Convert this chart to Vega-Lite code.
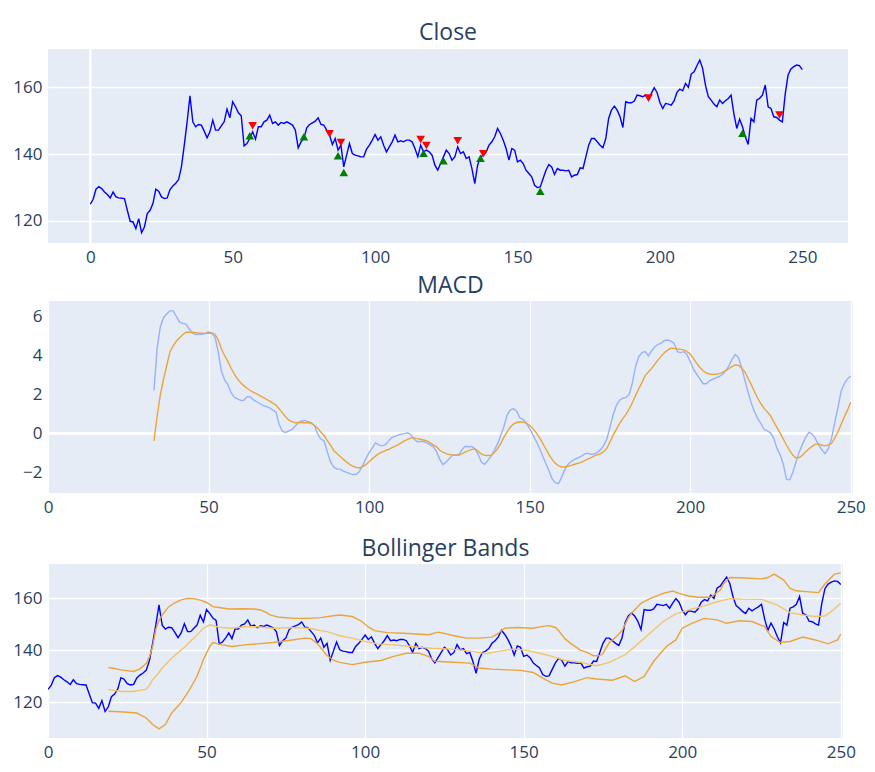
{
  "$schema": "https://vega.github.io/schema/vega-lite/v6.json",
  "background": "white",
  "padding": {"left": 12, "top": 21, "right": 5, "bottom": 5},
  "bounds": "flush",
  "spacing": 58,
  "resolve": {"scale": {"color": "independent", "shape": "independent"}},
  "config": {
    "view": {"fill": "#E5ECF6", "stroke": null},
    "axis": {"domain": false, "ticks": false, "gridColor": "white", "gridWidth": 1.3, "labelColor": "#2a3f5f", "labelFont": "Open Sans", "labelFontSize": 17, "labelPadding": 6, "labelFlush": false, "labelOverlap": false},
    "title": {"font": "Open Sans", "fontSize": 23, "color": "#2a3f5f", "fontWeight": "normal", "anchor": "middle", "offset": 3},
    "line": {"strokeWidth": 1.5}
  },
  "datasets": {
    "close": [
{"x":0,"close":125.0},{"x":1,"close":126.5},{"x":2,"close":129.5},{"x":3,"close":130.3},{"x":4,"close":129.7},{"x":5,"close":128.7},{"x":6,"close":127.9},{"x":7,"close":126.9},{"x":8,"close":128.7},{"x":9,"close":127.2},
{"x":10,"close":126.9},{"x":11,"close":126.8},{"x":12,"close":126.7},{"x":13,"close":123.2},{"x":14,"close":119.9},{"x":15,"close":119.7},{"x":16,"close":117.7},{"x":17,"close":120.7},{"x":18,"close":116.5},{"x":19,"close":118.2},
{"x":20,"close":122.2},{"x":21,"close":123.2},{"x":22,"close":125.2},{"x":23,"close":129.5},{"x":24,"close":128.9},{"x":25,"close":127.2},{"x":26,"close":126.7},{"x":27,"close":126.9},{"x":28,"close":129.4},{"x":29,"close":130.5},
{"x":30,"close":131.3},{"x":31,"close":132.4},{"x":32,"close":136.2},{"x":33,"close":142.7},{"x":34,"close":149.7},{"x":35,"close":157.5},{"x":36,"close":149.7},{"x":37,"close":148.2},{"x":38,"close":148.9},{"x":39,"close":148.7},
{"x":40,"close":146.9},{"x":41,"close":144.9},{"x":42,"close":146.7},{"x":43,"close":150.2},{"x":44,"close":147.2},{"x":45,"close":147.2},{"x":46,"close":148.5},{"x":47,"close":149.7},{"x":48,"close":153.5},{"x":49,"close":150.9},
{"x":50,"close":155.7},{"x":51,"close":154.2},{"x":52,"close":152.4},{"x":53,"close":151.5},{"x":54,"close":142.5},{"x":55,"close":143.2},{"x":56,"close":144.7},{"x":57,"close":146.7},{"x":58,"close":144.5},{"x":59,"close":148.2},
{"x":60,"close":148.2},{"x":61,"close":149.7},{"x":62,"close":150.2},{"x":63,"close":151.7},{"x":64,"close":149.2},{"x":65,"close":149.7},{"x":66,"close":148.7},{"x":67,"close":149.5},{"x":68,"close":149.2},{"x":69,"close":149.7},
{"x":70,"close":149.2},{"x":71,"close":148.7},{"x":72,"close":147.2},{"x":73,"close":141.9},{"x":74,"close":143.7},{"x":75,"close":144.7},{"x":76,"close":147.9},{"x":77,"close":148.9},{"x":78,"close":149.4},{"x":79,"close":149.9},
{"x":80,"close":150.9},{"x":81,"close":148.9},{"x":82,"close":148.7},{"x":83,"close":147.2},{"x":84,"close":145.7},{"x":85,"close":142.9},{"x":86,"close":144.7},{"x":87,"close":141.2},{"x":88,"close":142.7},{"x":89,"close":136.2},
{"x":90,"close":139.7},{"x":91,"close":143.2},{"x":92,"close":140.2},{"x":93,"close":139.7},{"x":94,"close":139.5},{"x":95,"close":139.2},{"x":96,"close":139.2},{"x":97,"close":141.5},{"x":98,"close":142.7},{"x":99,"close":144.2},
{"x":100,"close":145.9},{"x":101,"close":144.2},{"x":102,"close":145.2},{"x":103,"close":142.7},{"x":104,"close":140.7},{"x":105,"close":142.2},{"x":106,"close":143.7},{"x":107,"close":145.7},{"x":108,"close":143.7},{"x":109,"close":144.0},
{"x":110,"close":143.7},{"x":111,"close":144.2},{"x":112,"close":144.2},{"x":113,"close":143.7},{"x":114,"close":141.7},{"x":115,"close":139.2},{"x":116,"close":142.7},{"x":117,"close":140.7},{"x":118,"close":141.2},{"x":119,"close":140.7},
{"x":120,"close":139.7},{"x":121,"close":136.7},{"x":122,"close":135.2},{"x":123,"close":137.2},{"x":124,"close":139.2},{"x":125,"close":141.2},{"x":126,"close":140.2},{"x":127,"close":138.2},{"x":128,"close":139.2},{"x":129,"close":142.2},
{"x":130,"close":140.2},{"x":131,"close":140.7},{"x":132,"close":138.7},{"x":133,"close":139.2},{"x":134,"close":135.7},{"x":135,"close":131.2},{"x":136,"close":136.7},{"x":137,"close":139.2},{"x":138,"close":139.7},{"x":139,"close":140.7},
{"x":140,"close":142.7},{"x":141,"close":143.7},{"x":142,"close":145.2},{"x":143,"close":147.7},{"x":144,"close":146.2},{"x":145,"close":144.2},{"x":146,"close":141.7},{"x":147,"close":138.2},{"x":148,"close":141.7},{"x":149,"close":141.2},
{"x":150,"close":137.7},{"x":151,"close":138.2},{"x":152,"close":137.2},{"x":153,"close":135.2},{"x":154,"close":134.2},{"x":155,"close":133.2},{"x":156,"close":130.7},{"x":157,"close":130.0},{"x":158,"close":130.2},{"x":159,"close":132.7},
{"x":160,"close":135.2},{"x":161,"close":136.9},{"x":162,"close":136.2},{"x":163,"close":133.9},{"x":164,"close":135.7},{"x":165,"close":135.2},{"x":166,"close":135.2},{"x":167,"close":135.0},{"x":168,"close":135.2},{"x":169,"close":133.2},
{"x":170,"close":133.7},{"x":171,"close":133.9},{"x":172,"close":135.9},{"x":173,"close":135.7},{"x":174,"close":139.2},{"x":175,"close":142.7},{"x":176,"close":144.7},{"x":177,"close":144.7},{"x":178,"close":143.7},{"x":179,"close":142.7},
{"x":180,"close":141.9},{"x":181,"close":144.7},{"x":182,"close":150.7},{"x":183,"close":153.2},{"x":184,"close":154.4},{"x":185,"close":153.2},{"x":186,"close":151.2},{"x":187,"close":148.0},{"x":188,"close":155.7},{"x":189,"close":155.4},
{"x":190,"close":155.4},{"x":191,"close":155.9},{"x":192,"close":157.7},{"x":193,"close":157.5},{"x":194,"close":157.2},{"x":195,"close":157.7},{"x":196,"close":156.2},{"x":197,"close":158.2},{"x":198,"close":159.9},{"x":199,"close":158.5},
{"x":200,"close":155.5},{"x":201,"close":153.7},{"x":202,"close":155.2},{"x":203,"close":155.0},{"x":204,"close":154.7},{"x":205,"close":156.0},{"x":206,"close":158.5},{"x":207,"close":159.5},{"x":208,"close":159.0},{"x":209,"close":161.2},
{"x":210,"close":160.0},{"x":211,"close":164.0},{"x":212,"close":164.7},{"x":213,"close":166.5},{"x":214,"close":168.2},{"x":215,"close":165.7},{"x":216,"close":160.7},{"x":217,"close":157.2},{"x":218,"close":156.2},{"x":219,"close":155.0},
{"x":220,"close":154.2},{"x":221,"close":156.2},{"x":222,"close":155.2},{"x":223,"close":156.0},{"x":224,"close":156.7},{"x":225,"close":157.7},{"x":226,"close":152.0},{"x":227,"close":147.7},{"x":228,"close":150.5},{"x":229,"close":148.2},
{"x":230,"close":145.2},{"x":231,"close":142.9},{"x":232,"close":150.7},{"x":233,"close":149.7},{"x":234,"close":156.2},{"x":235,"close":156.7},{"x":236,"close":157.7},{"x":237,"close":160.7},{"x":238,"close":154.2},{"x":239,"close":153.7},
{"x":240,"close":151.2},{"x":241,"close":151.0},{"x":242,"close":150.2},{"x":243,"close":149.7},{"x":244,"close":158.0},{"x":245,"close":163.7},{"x":246,"close":165.5},{"x":247,"close":166.2},{"x":248,"close":166.7},{"x":249,"close":166.5},
{"x":250,"close":165.3}
    ],
    "signals": [
{"x":56,"y":145.5,"type":"buy"},{"x":75,"y":145.2,"type":"buy"},{"x":87,"y":139.5,"type":"buy"},{"x":89,"y":134.5,"type":"buy"},{"x":117,"y":140.3,"type":"buy"},{"x":124,"y":138.0,"type":"buy"},{"x":137,"y":138.8,"type":"buy"},{"x":158,"y":128.9,"type":"buy"},{"x":229,"y":146.3,"type":"buy"},
{"x":57,"y":148.5,"type":"sell"},{"x":84,"y":146.1,"type":"sell"},{"x":88,"y":143.5,"type":"sell"},{"x":116,"y":144.4,"type":"sell"},{"x":118,"y":142.6,"type":"sell"},{"x":129,"y":144.0,"type":"sell"},{"x":138,"y":140.1,"type":"sell"},{"x":196,"y":156.8,"type":"sell"},{"x":242,"y":151.7,"type":"sell"}
    ],
    "macd": [
{"x":33,"macd":2.2,"signal":-0.4},{"x":34,"macd":4.4,"signal":0.9},{"x":35,"macd":5.5,"signal":2.0},{"x":36,"macd":5.95,"signal":2.8},{"x":37,"macd":6.15,"signal":3.5},{"x":38,"macd":6.3,"signal":4.2},{"x":39,"macd":6.3,"signal":4.5},
{"x":40,"macd":6.0,"signal":4.75},{"x":41,"macd":5.72,"signal":4.92},{"x":42,"macd":5.66,"signal":5.08},{"x":43,"macd":5.62,"signal":5.2},{"x":44,"macd":5.35,"signal":5.2},{"x":45,"macd":5.17,"signal":5.19},{"x":46,"macd":5.08,"signal":5.18},{"x":47,"macd":5.1,"signal":5.16},{"x":48,"macd":5.1,"signal":5.15},{"x":49,"macd":5.14,"signal":5.14},
{"x":50,"macd":5.22,"signal":5.15},{"x":51,"macd":5.15,"signal":5.16},{"x":52,"macd":4.95,"signal":5.1},{"x":53,"macd":4.2,"signal":4.8},{"x":54,"macd":3.2,"signal":4.35},{"x":55,"macd":2.75,"signal":4.0},{"x":56,"macd":2.5,"signal":3.7},{"x":57,"macd":2.1,"signal":3.36},{"x":58,"macd":1.85,"signal":3.05},{"x":59,"macd":1.77,"signal":2.8},
{"x":60,"macd":1.69,"signal":2.6},{"x":61,"macd":1.7,"signal":2.45},{"x":62,"macd":1.88,"signal":2.3},{"x":63,"macd":1.87,"signal":2.2},{"x":64,"macd":1.72,"signal":2.1},{"x":65,"macd":1.62,"signal":2.03},{"x":66,"macd":1.53,"signal":1.94},{"x":67,"macd":1.42,"signal":1.85},{"x":68,"macd":1.37,"signal":1.75},{"x":69,"macd":1.31,"signal":1.65},
{"x":70,"macd":1.19,"signal":1.55},{"x":71,"macd":1.08,"signal":1.45},{"x":72,"macd":0.45,"signal":1.25},{"x":73,"macd":0.1,"signal":1.05},{"x":74,"macd":0.04,"signal":0.85},{"x":75,"macd":0.12,"signal":0.67},{"x":76,"macd":0.2,"signal":0.6},{"x":77,"macd":0.37,"signal":0.54},{"x":78,"macd":0.55,"signal":0.55},{"x":79,"macd":0.63,"signal":0.55},
{"x":80,"macd":0.66,"signal":0.54},{"x":81,"macd":0.6,"signal":0.55},{"x":82,"macd":0.55,"signal":0.5},{"x":83,"macd":0.38,"signal":0.4},{"x":84,"macd":-0.05,"signal":0.25},{"x":85,"macd":-0.3,"signal":0.05},{"x":86,"macd":-0.4,"signal":-0.12},{"x":87,"macd":-0.97,"signal":-0.38},{"x":88,"macd":-1.48,"signal":-0.62},{"x":89,"macd":-1.75,"signal":-0.9},
{"x":90,"macd":-1.85,"signal":-1.05},{"x":91,"macd":-1.85,"signal":-1.2},{"x":92,"macd":-1.95,"signal":-1.35},{"x":93,"macd":-2.02,"signal":-1.48},{"x":94,"macd":-2.08,"signal":-1.62},{"x":95,"macd":-2.13,"signal":-1.7},{"x":96,"macd":-2.12,"signal":-1.76},{"x":97,"macd":-1.98,"signal":-1.79},{"x":98,"macd":-1.65,"signal":-1.72},{"x":99,"macd":-1.31,"signal":-1.62},
{"x":100,"macd":-1.0,"signal":-1.47},{"x":101,"macd":-0.75,"signal":-1.31},{"x":102,"macd":-0.5,"signal":-1.18},{"x":103,"macd":-0.6,"signal":-1.05},{"x":104,"macd":-0.65,"signal":-0.97},{"x":105,"macd":-0.6,"signal":-0.9},{"x":106,"macd":-0.42,"signal":-0.84},{"x":107,"macd":-0.22,"signal":-0.76},{"x":108,"macd":-0.16,"signal":-0.68},{"x":109,"macd":-0.1,"signal":-0.6},
{"x":110,"macd":-0.05,"signal":-0.5},{"x":111,"macd":-0.02,"signal":-0.4},{"x":112,"macd":0.02,"signal":-0.32},{"x":113,"macd":-0.08,"signal":-0.24},{"x":114,"macd":-0.3,"signal":-0.24},{"x":115,"macd":-0.44,"signal":-0.28},{"x":116,"macd":-0.42,"signal":-0.31},{"x":117,"macd":-0.43,"signal":-0.35},{"x":118,"macd":-0.5,"signal":-0.39},{"x":119,"macd":-0.6,"signal":-0.5},
{"x":120,"macd":-0.7,"signal":-0.6},{"x":121,"macd":-0.95,"signal":-0.7},{"x":122,"macd":-1.35,"signal":-0.88},{"x":123,"macd":-1.62,"signal":-0.98},{"x":124,"macd":-1.48,"signal":-1.05},{"x":125,"macd":-1.3,"signal":-1.1},{"x":126,"macd":-1.14,"signal":-1.12},{"x":127,"macd":-1.12,"signal":-1.14},{"x":128,"macd":-1.1,"signal":-1.12},{"x":129,"macd":-0.82,"signal":-1.05},
{"x":130,"macd":-0.67,"signal":-0.96},{"x":131,"macd":-0.7,"signal":-0.9},{"x":132,"macd":-0.68,"signal":-0.83},{"x":133,"macd":-0.8,"signal":-0.82},{"x":134,"macd":-1.1,"signal":-0.93},{"x":135,"macd":-1.5,"signal":-1.08},{"x":136,"macd":-1.6,"signal":-1.14},{"x":137,"macd":-1.4,"signal":-1.15},{"x":138,"macd":-1.18,"signal":-1.14},{"x":139,"macd":-0.88,"signal":-1.0},
{"x":140,"macd":-0.55,"signal":-0.8},{"x":141,"macd":-0.1,"signal":-0.52},{"x":142,"macd":0.35,"signal":-0.2},{"x":143,"macd":0.95,"signal":0.08},{"x":144,"macd":1.2,"signal":0.32},{"x":145,"macd":1.26,"signal":0.48},{"x":146,"macd":1.12,"signal":0.55},{"x":147,"macd":0.78,"signal":0.59},{"x":148,"macd":0.7,"signal":0.57},{"x":149,"macd":0.5,"signal":0.52},
{"x":150,"macd":0.24,"signal":0.4},{"x":151,"macd":-0.08,"signal":0.25},{"x":152,"macd":-0.4,"signal":0.03},{"x":153,"macd":-0.75,"signal":-0.22},{"x":154,"macd":-1.15,"signal":-0.5},{"x":155,"macd":-1.55,"signal":-0.8},{"x":156,"macd":-1.93,"signal":-1.1},{"x":157,"macd":-2.35,"signal":-1.35},{"x":158,"macd":-2.55,"signal":-1.55},{"x":159,"macd":-2.6,"signal":-1.68},
{"x":160,"macd":-2.25,"signal":-1.74},{"x":161,"macd":-1.85,"signal":-1.73},{"x":162,"macd":-1.6,"signal":-1.7},{"x":163,"macd":-1.45,"signal":-1.66},{"x":164,"macd":-1.35,"signal":-1.6},{"x":165,"macd":-1.27,"signal":-1.55},{"x":166,"macd":-1.2,"signal":-1.5},{"x":167,"macd":-1.08,"signal":-1.42},{"x":168,"macd":-1.03,"signal":-1.34},{"x":169,"macd":-1.08,"signal":-1.27},
{"x":170,"macd":-1.07,"signal":-1.18},{"x":171,"macd":-1.0,"signal":-1.12},{"x":172,"macd":-0.86,"signal":-1.06},{"x":173,"macd":-0.65,"signal":-0.95},{"x":174,"macd":-0.32,"signal":-0.79},{"x":175,"macd":0.3,"signal":-0.45},{"x":176,"macd":0.95,"signal":-0.1},{"x":177,"macd":1.42,"signal":0.2},{"x":178,"macd":1.7,"signal":0.5},{"x":179,"macd":1.8,"signal":0.75},
{"x":180,"macd":1.84,"signal":0.97},{"x":181,"macd":2.0,"signal":1.25},{"x":182,"macd":2.6,"signal":1.58},{"x":183,"macd":3.45,"signal":1.95},{"x":184,"macd":3.95,"signal":2.3},{"x":185,"macd":4.15,"signal":2.62},{"x":186,"macd":4.2,"signal":2.98},{"x":187,"macd":3.98,"signal":3.15},{"x":188,"macd":4.25,"signal":3.34},{"x":189,"macd":4.45,"signal":3.56},
{"x":190,"macd":4.58,"signal":3.78},{"x":191,"macd":4.64,"signal":3.97},{"x":192,"macd":4.78,"signal":4.16},{"x":193,"macd":4.8,"signal":4.28},{"x":194,"macd":4.74,"signal":4.38},{"x":195,"macd":4.62,"signal":4.37},{"x":196,"macd":4.2,"signal":4.34},{"x":197,"macd":4.15,"signal":4.32},{"x":198,"macd":4.2,"signal":4.29},{"x":199,"macd":4.05,"signal":4.2},
{"x":200,"macd":3.7,"signal":4.08},{"x":201,"macd":3.3,"signal":3.85},{"x":202,"macd":3.05,"signal":3.6},{"x":203,"macd":2.8,"signal":3.4},{"x":204,"macd":2.55,"signal":3.22},{"x":205,"macd":2.55,"signal":3.1},{"x":206,"macd":2.7,"signal":3.05},{"x":207,"macd":2.78,"signal":3.03},{"x":208,"macd":2.85,"signal":3.04},{"x":209,"macd":2.92,"signal":3.07},
{"x":210,"macd":3.02,"signal":3.12},{"x":211,"macd":3.2,"signal":3.22},{"x":212,"macd":3.45,"signal":3.32},{"x":213,"macd":3.8,"signal":3.43},{"x":214,"macd":4.05,"signal":3.52},{"x":215,"macd":3.9,"signal":3.5},{"x":216,"macd":3.4,"signal":3.35},{"x":217,"macd":2.75,"signal":3.17},{"x":218,"macd":2.15,"signal":2.83},{"x":219,"macd":1.55,"signal":2.5},
{"x":220,"macd":1.12,"signal":2.15},{"x":221,"macd":0.76,"signal":1.8},{"x":222,"macd":0.5,"signal":1.53},{"x":223,"macd":0.2,"signal":1.28},{"x":224,"macd":0.12,"signal":1.1},{"x":225,"macd":0.02,"signal":0.9},{"x":226,"macd":-0.25,"signal":0.6},{"x":227,"macd":-0.78,"signal":0.3},{"x":228,"macd":-1.1,"signal":0.0},{"x":229,"macd":-1.6,"signal":-0.3},
{"x":230,"macd":-2.38,"signal":-0.62},{"x":231,"macd":-2.4,"signal":-0.9},{"x":232,"macd":-2.0,"signal":-1.14},{"x":233,"macd":-1.45,"signal":-1.28},{"x":234,"macd":-0.95,"signal":-1.25},{"x":235,"macd":-0.55,"signal":-1.12},{"x":236,"macd":-0.2,"signal":-0.95},{"x":237,"macd":0.05,"signal":-0.8},{"x":238,"macd":-0.05,"signal":-0.68},{"x":239,"macd":-0.28,"signal":-0.56},
{"x":240,"macd":-0.6,"signal":-0.55},{"x":241,"macd":-0.85,"signal":-0.62},{"x":242,"macd":-1.05,"signal":-0.65},{"x":243,"macd":-0.8,"signal":-0.6},{"x":244,"macd":-0.28,"signal":-0.53},{"x":245,"macd":0.55,"signal":-0.25},{"x":246,"macd":1.3,"signal":0.07},{"x":247,"macd":2.15,"signal":0.45},{"x":248,"macd":2.55,"signal":0.84},{"x":249,"macd":2.8,"signal":1.2},
{"x":250,"macd":2.95,"signal":1.6}
    ],
    "bands": [
{"x":19,"v":133.4,"band":"upper"},{"x":21,"v":133.0,"band":"upper"},{"x":23,"v":132.5,"band":"upper"},{"x":25,"v":132.2,"band":"upper"},{"x":27,"v":131.9,"band":"upper"},{"x":29,"v":132.9,"band":"upper"},{"x":31,"v":135.0,"band":"upper"},{"x":32,"v":137.5,"band":"upper"},{"x":33,"v":141.5,"band":"upper"},{"x":34,"v":148.0,"band":"upper"},{"x":35,"v":151.5,"band":"upper"},{"x":36,"v":153.6,"band":"upper"},{"x":38,"v":156.7,"band":"upper"},{"x":40,"v":158.3,"band":"upper"},{"x":42,"v":159.4,"band":"upper"},{"x":44,"v":160.0,"band":"upper"},{"x":46,"v":159.9,"band":"upper"},{"x":48,"v":159.3,"band":"upper"},{"x":50,"v":158.4,"band":"upper"},{"x":52,"v":156.8,"band":"upper"},{"x":54,"v":156.5,"band":"upper"},{"x":57,"v":155.9,"band":"upper"},{"x":61,"v":156.0,"band":"upper"},{"x":65,"v":155.9,"band":"upper"},{"x":67,"v":155.5,"band":"upper"},{"x":69,"v":154.5,"band":"upper"},{"x":70,"v":153.6,"band":"upper"},{"x":73,"v":152.7,"band":"upper"},{"x":78,"v":152.3,"band":"upper"},{"x":82,"v":152.3,"band":"upper"},{"x":86,"v":152.6,"band":"upper"},{"x":90,"v":153.3,"band":"upper"},{"x":92,"v":153.6,"band":"upper"},{"x":96,"v":153.0,"band":"upper"},{"x":99,"v":151.1,"band":"upper"},{"x":101,"v":149.0,"band":"upper"},{"x":103,"v":147.6,"band":"upper"},{"x":107,"v":146.8,"band":"upper"},{"x":112,"v":146.6,"band":"upper"},{"x":116,"v":146.3,"band":"upper"},{"x":120,"v":146.0,"band":"upper"},{"x":123,"v":147.0,"band":"upper"},{"x":125,"v":146.5,"band":"upper"},{"x":128,"v":145.6,"band":"upper"},{"x":132,"v":144.7,"band":"upper"},{"x":136,"v":144.7,"band":"upper"},{"x":140,"v":145.1,"band":"upper"},{"x":142,"v":146.5,"band":"upper"},{"x":144,"v":148.5,"band":"upper"},{"x":148,"v":148.8,"band":"upper"},{"x":153,"v":148.5,"band":"upper"},{"x":156,"v":149.2,"band":"upper"},{"x":158,"v":149.5,"band":"upper"},{"x":160,"v":148.8,"band":"upper"},{"x":161,"v":147.6,"band":"upper"},{"x":163,"v":144.5,"band":"upper"},{"x":165,"v":142.5,"band":"upper"},{"x":168,"v":140.0,"band":"upper"},{"x":170,"v":139.2,"band":"upper"},{"x":172,"v":137.9,"band":"upper"},{"x":174,"v":137.9,"band":"upper"},{"x":175,"v":138.9,"band":"upper"},{"x":177,"v":143.0,"band":"upper"},{"x":179,"v":145.0,"band":"upper"},{"x":181,"v":147.5,"band":"upper"},{"x":183,"v":152.5,"band":"upper"},{"x":184,"v":154.3,"band":"upper"},{"x":187,"v":158.1,"band":"upper"},{"x":190,"v":160.0,"band":"upper"},{"x":194,"v":161.9,"band":"upper"},{"x":197,"v":162.8,"band":"upper"},{"x":199,"v":161.9,"band":"upper"},{"x":202,"v":160.9,"band":"upper"},{"x":205,"v":160.4,"band":"upper"},{"x":209,"v":160.4,"band":"upper"},{"x":212,"v":163.2,"band":"upper"},{"x":213,"v":165.5,"band":"upper"},{"x":215,"v":168.0,"band":"upper"},{"x":220,"v":167.8,"band":"upper"},{"x":225,"v":167.5,"band":"upper"},{"x":227,"v":168.0,"band":"upper"},{"x":229,"v":169.3,"band":"upper"},{"x":232,"v":167.0,"band":"upper"},{"x":234,"v":163.8,"band":"upper"},{"x":236,"v":162.9,"band":"upper"},{"x":240,"v":162.5,"band":"upper"},{"x":243,"v":162.2,"band":"upper"},{"x":245,"v":165.5,"band":"upper"},{"x":248,"v":169.3,"band":"upper"},{"x":250,"v":169.8,"band":"upper"},
{"x":19,"v":124.9,"band":"middle"},{"x":23,"v":124.2,"band":"middle"},{"x":27,"v":124.2,"band":"middle"},{"x":31,"v":125.1,"band":"middle"},{"x":32,"v":126.5,"band":"middle"},{"x":33,"v":128.7,"band":"middle"},{"x":35,"v":131.5,"band":"middle"},{"x":36,"v":133.2,"band":"middle"},{"x":39,"v":137.0,"band":"middle"},{"x":43,"v":141.2,"band":"middle"},{"x":46,"v":144.7,"band":"middle"},{"x":49,"v":148.5,"band":"middle"},{"x":51,"v":149.8,"band":"middle"},{"x":54,"v":148.9,"band":"middle"},{"x":58,"v":148.5,"band":"middle"},{"x":62,"v":149.1,"band":"middle"},{"x":66,"v":149.1,"band":"middle"},{"x":71,"v":148.5,"band":"middle"},{"x":77,"v":148.8,"band":"middle"},{"x":82,"v":148.5,"band":"middle"},{"x":84,"v":148.1,"band":"middle"},{"x":86,"v":147.6,"band":"middle"},{"x":88,"v":147.2,"band":"middle"},{"x":92,"v":145.6,"band":"middle"},{"x":96,"v":144.7,"band":"middle"},{"x":100,"v":143.4,"band":"middle"},{"x":104,"v":142.5,"band":"middle"},{"x":109,"v":142.1,"band":"middle"},{"x":113,"v":141.7,"band":"middle"},{"x":117,"v":141.2,"band":"middle"},{"x":121,"v":140.8,"band":"middle"},{"x":126,"v":140.5,"band":"middle"},{"x":130,"v":140.2,"band":"middle"},{"x":134,"v":139.6,"band":"middle"},{"x":138,"v":138.7,"band":"middle"},{"x":142,"v":139.6,"band":"middle"},{"x":147,"v":140.5,"band":"middle"},{"x":151,"v":140.0,"band":"middle"},{"x":155,"v":138.9,"band":"middle"},{"x":159,"v":137.7,"band":"middle"},{"x":163,"v":136.1,"band":"middle"},{"x":168,"v":135.4,"band":"middle"},{"x":170,"v":134.8,"band":"middle"},{"x":173,"v":134.1,"band":"middle"},{"x":177,"v":135.4,"band":"middle"},{"x":182,"v":138.3,"band":"middle"},{"x":186,"v":142.5,"band":"middle"},{"x":190,"v":146.8,"band":"middle"},{"x":194,"v":151.1,"band":"middle"},{"x":198,"v":154.0,"band":"middle"},{"x":202,"v":155.5,"band":"middle"},{"x":207,"v":157.1,"band":"middle"},{"x":211,"v":158.7,"band":"middle"},{"x":215,"v":159.9,"band":"middle"},{"x":219,"v":159.7,"band":"middle"},{"x":225,"v":159.6,"band":"middle"},{"x":230,"v":157.4,"band":"middle"},{"x":234,"v":154.5,"band":"middle"},{"x":238,"v":153.6,"band":"middle"},{"x":242,"v":153.0,"band":"middle"},{"x":245,"v":153.2,"band":"middle"},{"x":247,"v":154.9,"band":"middle"},{"x":250,"v":158.1,"band":"middle"},
{"x":19,"v":116.6,"band":"lower"},{"x":24,"v":116.3,"band":"lower"},{"x":28,"v":115.9,"band":"lower"},{"x":31,"v":114.0,"band":"lower"},{"x":33,"v":111.5,"band":"lower"},{"x":35,"v":109.8,"band":"lower"},{"x":37,"v":111.5,"band":"lower"},{"x":39,"v":115.9,"band":"lower"},{"x":42,"v":120.0,"band":"lower"},{"x":44,"v":123.6,"band":"lower"},{"x":47,"v":130.0,"band":"lower"},{"x":49,"v":136.4,"band":"lower"},{"x":51,"v":141.5,"band":"lower"},{"x":52,"v":143.0,"band":"lower"},{"x":55,"v":142.1,"band":"lower"},{"x":58,"v":141.5,"band":"lower"},{"x":62,"v":142.1,"band":"lower"},{"x":66,"v":142.5,"band":"lower"},{"x":71,"v":143.0,"band":"lower"},{"x":77,"v":144.0,"band":"lower"},{"x":81,"v":144.7,"band":"lower"},{"x":83,"v":144.5,"band":"lower"},{"x":85,"v":142.5,"band":"lower"},{"x":88,"v":138.0,"band":"lower"},{"x":90,"v":136.2,"band":"lower"},{"x":92,"v":135.4,"band":"lower"},{"x":96,"v":134.5,"band":"lower"},{"x":100,"v":135.4,"band":"lower"},{"x":105,"v":136.1,"band":"lower"},{"x":109,"v":137.7,"band":"lower"},{"x":113,"v":138.9,"band":"lower"},{"x":117,"v":138.9,"band":"lower"},{"x":120,"v":137.7,"band":"lower"},{"x":122,"v":135.8,"band":"lower"},{"x":128,"v":135.4,"band":"lower"},{"x":133,"v":135.1,"band":"lower"},{"x":136,"v":133.2,"band":"lower"},{"x":140,"v":132.8,"band":"lower"},{"x":145,"v":132.5,"band":"lower"},{"x":149,"v":132.3,"band":"lower"},{"x":153,"v":131.5,"band":"lower"},{"x":156,"v":129.3,"band":"lower"},{"x":159,"v":127.4,"band":"lower"},{"x":162,"v":126.7,"band":"lower"},{"x":166,"v":128.0,"band":"lower"},{"x":170,"v":129.5,"band":"lower"},{"x":173,"v":129.0,"band":"lower"},{"x":178,"v":128.5,"band":"lower"},{"x":182,"v":130.2,"band":"lower"},{"x":185,"v":128.0,"band":"lower"},{"x":188,"v":130.0,"band":"lower"},{"x":191,"v":135.8,"band":"lower"},{"x":195,"v":141.5,"band":"lower"},{"x":198,"v":144.0,"band":"lower"},{"x":200,"v":148.5,"band":"lower"},{"x":203,"v":150.4,"band":"lower"},{"x":207,"v":152.3,"band":"lower"},{"x":211,"v":151.7,"band":"lower"},{"x":214,"v":150.4,"band":"lower"},{"x":218,"v":151.4,"band":"lower"},{"x":222,"v":151.1,"band":"lower"},{"x":226,"v":149.1,"band":"lower"},{"x":228,"v":145.3,"band":"lower"},{"x":231,"v":143.0,"band":"lower"},{"x":234,"v":143.4,"band":"lower"},{"x":238,"v":145.1,"band":"lower"},{"x":242,"v":144.0,"band":"lower"},{"x":246,"v":142.5,"band":"lower"},{"x":249,"v":144.0,"band":"lower"},{"x":250,"v":146.3,"band":"lower"}
    ]
  },
  "vconcat": [
    {
      "width": 800,
      "height": 194,
      "title": "Close",
      "layer": [
        {
          "data": {"values": [{}]},
          "mark": {"type": "rule", "color": "white", "strokeWidth": 2.6},
          "encoding": {"x": {"datum": 0, "type": "quantitative", "scale": {"domain": [-14.85, 266.05], "nice": false, "zero": false}, "axis": {"values": [0, 50, 100, 150, 200, 250], "title": null}}}
        },
        {
          "data": {"name": "close"},
          "mark": {"type": "line", "color": "#0000ff", "strokeWidth": 1.4, "clip": true},
          "encoding": {
            "x": {"field": "x", "type": "quantitative", "scale": {"domain": [-14.85, 266.05], "nice": false, "zero": false}, "axis": {"values": [0, 50, 100, 150, 200, 250], "title": null}},
            "y": {"field": "close", "type": "quantitative", "scale": {"domain": [113.4, 171.5], "nice": false, "zero": false}, "axis": {"values": [120, 140, 160], "title": null}}
          }
        },
        {
          "data": {"name": "signals"},
          "mark": {"type": "point", "filled": true, "opacity": 1, "size": 75},
          "encoding": {
            "x": {"field": "x", "type": "quantitative"},
            "y": {"field": "y", "type": "quantitative"},
            "shape": {"field": "type", "type": "nominal", "scale": {"domain": ["buy", "sell"], "range": ["triangle-up", "triangle-down"]}, "legend": null},
            "color": {"field": "type", "type": "nominal", "scale": {"domain": ["buy", "sell"], "range": ["#008000", "#ff0000"]}, "legend": null}
          }
        }
      ]
    },
    {
      "bounds": "flush",
      "spacing": 71,
      "vconcat": [
        {
          "width": 805,
          "height": 192,
          "title": "MACD",
          "data": {"name": "macd"},
          "layer": [
            {
              "mark": {"type": "rule", "color": "white", "strokeWidth": 2},
              "encoding": {"y": {"datum": 0, "type": "quantitative"}}
            },
            {
              "mark": {"type": "line", "color": "#98b1fb", "strokeWidth": 1.4, "clip": true},
              "encoding": {
                "x": {"field": "x", "type": "quantitative", "scale": {"domain": [0, 250.7], "nice": false, "zero": false}, "axis": {"values": [0, 50, 100, 150, 200, 250], "title": null}},
                "y": {"field": "macd", "type": "quantitative", "scale": {"domain": [-3.08, 6.81], "nice": false, "zero": false}, "axis": {"values": [-2, 0, 2, 4, 6], "title": null}}
              }
            },
            {
              "mark": {"type": "line", "color": "#eba43a", "strokeWidth": 1.4, "clip": true},
              "encoding": {
                "x": {"field": "x", "type": "quantitative"},
                "y": {"field": "signal", "type": "quantitative"}
              }
            }
          ]
        },
        {
          "width": 795,
          "height": 174,
          "title": "Bollinger Bands",
          "layer": [
            {
              "data": {"name": "close"},
              "mark": {"type": "line", "color": "#0000ff", "strokeWidth": 1.4, "clip": true},
              "encoding": {
                "x": {"field": "x", "type": "quantitative", "scale": {"domain": [0, 250.7], "nice": false, "zero": false}, "axis": {"values": [0, 50, 100, 150, 200, 250], "title": null}},
                "y": {"field": "close", "type": "quantitative", "scale": {"domain": [106.3, 173.2], "nice": false, "zero": false}, "axis": {"values": [120, 140, 160], "title": null}}
              }
            },
            {
              "data": {"name": "bands"},
              "transform": [{"filter": "datum.band === 'upper'"}],
              "mark": {"type": "line", "color": "#eba43a", "strokeWidth": 1.4, "clip": true},
              "encoding": {"x": {"field": "x", "type": "quantitative"}, "y": {"field": "v", "type": "quantitative"}}
            },
            {
              "data": {"name": "bands"},
              "transform": [{"filter": "datum.band === 'middle'"}],
              "mark": {"type": "line", "color": "#f4c46a", "strokeWidth": 1.4, "clip": true},
              "encoding": {"x": {"field": "x", "type": "quantitative"}, "y": {"field": "v", "type": "quantitative"}}
            },
            {
              "data": {"name": "bands"},
              "transform": [{"filter": "datum.band === 'lower'"}],
              "mark": {"type": "line", "color": "#eba43a", "strokeWidth": 1.4, "clip": true},
              "encoding": {"x": {"field": "x", "type": "quantitative"}, "y": {"field": "v", "type": "quantitative"}}
            }
          ]
        }
      ]
    }
  ]
}
